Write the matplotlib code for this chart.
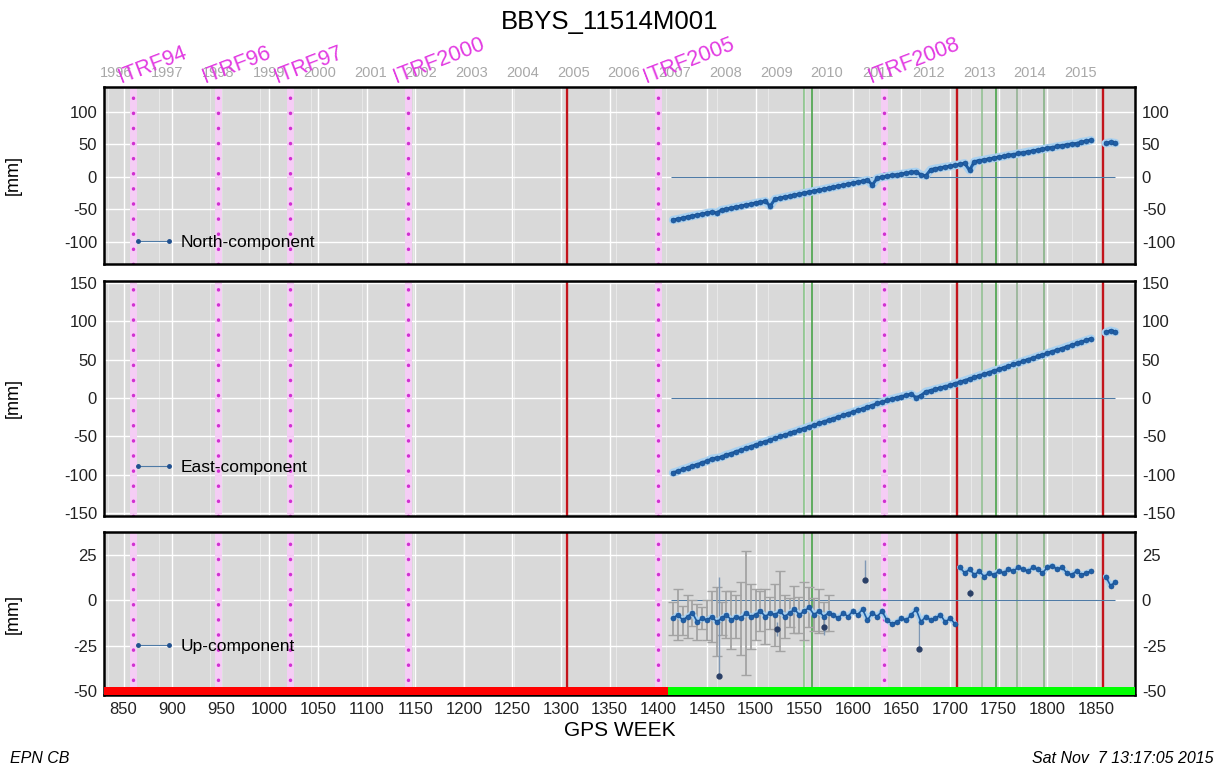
import numpy as np
import matplotlib
matplotlib.use("Agg")
from matplotlib import pyplot as plt
from matplotlib.lines import Line2D

plt.rcParams['font.family'] = ['Liberation Sans', 'DejaVu Sans']
plt.rcParams['axes.unicode_minus'] = False

station = "BBYS_11514M001"

# weekly solutions (sampled every 5 weeks), GPS week
weeks = np.concatenate([np.arange(1415, 1850, 5), [1860, 1865, 1870]])

north = [-66.4, -65.0, -63.5, -61.6, -60.4, -58.7, -57.5, -55.6, -54.3, -55.5,
         -51.0, -49.8, -48.1, -46.4, -45.1, -43.3, -42.0, -40.2, -39.0, -37.5,
         -45.0, -34.2, -32.9, -31.1, -29.8, -28.0, -26.8, -25.0, -23.7, -21.9,
         -20.6, -19.1, -17.3, -16.0, -14.2, -13.0, -11.2, -9.9, -8.1, -6.9,
         -5.0, -12.5, -2.3, -0.5, 0.8, 2.1, 3.0, 4.4, 5.4, 6.8,
         7.7, 3.0, 1.5, 10.8, 12.6, 13.7, 15.2, 16.1, 17.6, 19.2,
         20.8, 10.0, 23.3, 24.9, 26.0, 27.6, 28.7, 30.3, 31.4, 33.0,
         34.1, 35.8, 36.9, 38.5, 39.6, 41.2, 42.3, 43.9, 45.0, 46.6,
         47.7, 49.3, 50.4, 51.1, 53.4, 54.6, 56.2,
         51.5, 53.0, 51.8]

east = [-97.5, -95.6, -93.0, -91.2, -88.6, -86.9, -84.3, -82.5, -79.2, -78.4,
        -77.0, -74.1, -72.5, -69.9, -68.0, -65.6, -63.4, -61.3, -59.0, -57.0,
        -54.6, -52.7, -50.2, -48.4, -46.0, -44.1, -41.7, -39.8, -37.4, -35.6,
        -33.1, -31.3, -28.9, -27.0, -24.6, -22.8, -20.3, -18.5, -16.0, -14.3,
        -11.7, -9.9, -7.0, -5.8, -3.2, -1.6, 0.3, 1.8, 3.5, 5.1,
        0.5, 3.0, 8.2, 9.6, 11.5, 13.0, 14.9, 16.4, 18.9, 20.6,
        22.7, 24.9, 26.8, 29.2, 31.0, 33.1, 35.4, 37.3, 39.6, 41.5,
        43.8, 45.6, 47.9, 50.2, 52.0, 54.3, 56.1, 58.5, 60.4, 62.7,
        64.5, 66.9, 68.8, 71.1, 73.0, 75.3, 77.4,
        85.5, 87.8, 86.2]

up = [-10, -8, -11, -9, -7, -12, -10, -11, -9, -12,
      -10, -8, -11, -9, -10, -7, -9, -8, -6, -9,
      -7, -8, -6, -9, -7, -5, -8, -6, -4, -8,
      -6, -9, -7, -8, -10, -7, -9, -6, -8, -5,
      -11, -7, -9, -6, -11, -13, -12, -10, -11, -8,
      -5, -12, -9, -11, -10, -8, -12, -10, -13, 18,
      15, 17, 14, 16, 13, 15, 14, 16, 15, 17,
      16, 18, 17, 16, 18, 17, 15, 18, 19, 17,
      18, 15, 14, 16, 14, 15, 16,
      13, 8, 10]

up_err = [9, 14, 8, 12, 7, 10, 6, 11, 14, 19,
          9, 13, 16, 12, 20, 34, 18, 14, 11, 15,
          9, 17, 22, 12, 8, 13, 10, 16, 11, 9,
          12, 8, 10, 1.5, 1.5, 1.5, 1.5, 1.5, 1.5, 1.5,
          1.5, 1.5, 1.5, 1.5, 1.5, 1.5, 1.5, 1.5, 1.5, 1.5,
          1.5, 1.5, 1.5, 1.5, 1.5, 1.5, 1.5, 1.5, 1.5, 1.5,
          1.5, 1.5, 1.5, 1.5, 1.5, 1.5, 1.5, 1.5, 1.5, 1.5,
          1.5, 1.5, 1.5, 1.5, 1.5, 1.5, 1.5, 1.5, 1.5, 1.5,
          1.5, 1.5, 1.5, 1.5, 1.5, 1.5, 1.5,
          3, 3, 3]

# isolated Up outliers
up_out_weeks = [1462, 1522, 1570, 1613, 1668, 1720]
up_out_vals = [-42, -16, -15, 11, -27, 4]
up_out_lo = [0, 4, 4, 0, 0, 2]
up_out_hi = [55, 4, 4, 11, 16, 2]

itrf_names = ["ITRF94", "ITRF96", "ITRF97", "ITRF2000", "ITRF2005", "ITRF2008"]
itrf_weeks = [860, 947, 1021, 1143, 1400, 1632]
disc_weeks = [1306, 1707, 1857]
equip_weeks = [1550, 1558, 1733, 1747, 1769, 1797]
equip_colors = ['#7fbf7f', '#3f9f3f', '#8fc08f', '#3f9f3f', '#8fb08f', '#7fb07f']
years = list(range(1996, 2016))
status_edges = [830, 1410, 1890]
status_colors = ['#ff0000', '#00ff00']

XMIN, XMAX = 830, 1890
year_weeks = np.array([(np.datetime64(f'{y}-01-01') - np.datetime64('1980-01-06')).astype(int) / 7.0
                       for y in years])

fig = plt.figure(figsize=(12.17, 7.69), dpi=100)
L, W = 0.0855, 0.847
axN = fig.add_axes([L, 0.6567, W, 0.2302])
axE = fig.add_axes([L, 0.3294, W, 0.3052])
axU = fig.add_axes([L, 0.0962, W, 0.2120])


def style(ax, ylim, yticks):
    ax.set_facecolor('#d9d9d9')
    ax.set_xlim(XMIN, XMAX)
    ax.set_ylim(*ylim)
    ax.set_yticks(yticks)
    ax.set_xticks(range(850, 1900, 50))
    ax.set_xticks(year_weeks, minor=True)
    ax.grid(True, which='major', color='white', lw=1.0)
    ax.grid(True, which='minor', axis='x', color='#e8e8e8', lw=0.8)
    ax.set_axisbelow(True)
    ax.tick_params(which='both', length=0, labelsize=12, labelcolor='#222222',
                   labelright=True, labelbottom=False, pad=5)
    for s in ax.spines.values():
        s.set_linewidth(1.8)
        s.set_color('black')
    ax.set_ylabel('[mm]', fontsize=13)
    ax.yaxis.set_label_coords(-0.0795, 0.5)
    for w in itrf_weeks:
        ax.axvline(w, color='#f5cdf5', lw=5, zorder=1)
        ax.axvline(w, color='#d22fd2', lw=2.5, ls=(0, (0.05, 4.3)),
                   dash_capstyle='round', zorder=1.5)
    for w, c in zip(equip_weeks, equip_colors):
        ax.axvline(w, color=c, lw=1.1, zorder=1.2)
    for w in disc_weeks:
        ax.axvline(w, color='#c3141c', lw=1.7, zorder=1.6)
    ax.hlines(0, 1413, 1870, color='#4f7ba6', lw=0.8, zorder=1.8)


def add_legend(ax, label, yfrac):
    h = Line2D([], [], color='#4f7ba6', lw=0.8, marker='o', ms=2.5,
               mfc='#1f4f8f', mec='#1f4f8f')
    ax.legend([h], [label], loc='center left', bbox_to_anchor=(0.028, yfrac),
              frameon=False, numpoints=2, handlelength=2.4, handletextpad=0.35,
              borderpad=0, borderaxespad=0, fontsize=12.5)


def draw_series(ax, vals, halo, lw, breaks):
    v = np.array(vals, dtype=float)
    edges = [-np.inf] + breaks + [np.inf]
    for a, b in zip(edges[:-1], edges[1:]):
        m = (weeks > a) & (weeks < b)
        ax.plot(weeks[m], v[m], color='#a9d1f0', lw=halo, solid_capstyle='round', zorder=3)
        ax.plot(weeks[m], v[m], color='#1f5fa6', lw=lw, marker='o', ms=3.6,
                mec='#1a4b8a', mew=0.4, zorder=4)


style(axN, (-134, 138), [-100, -50, 0, 50, 100])
draw_series(axN, north, 6, 2.2, [1852])
add_legend(axN, 'North-component', 0.124)

style(axE, (-153.5, 152.6), [-150, -100, -50, 0, 50, 100, 150])
draw_series(axE, east, 6, 2.2, [1852])
add_legend(axE, 'East-component', 0.206)

style(axU, (-52.2, 37.5), [-50, -25, 0, 25])
up_a = np.array(up, dtype=float)
err_a = np.array(up_err, dtype=float)
gray = err_a > 4
axU.errorbar(weeks[gray], up_a[gray], yerr=err_a[gray], fmt='none', ecolor='#a3a3a3',
             elinewidth=1.3, capsize=3.5, capthick=1.0, zorder=3)
axU.errorbar(up_out_weeks, up_out_vals, yerr=[up_out_lo, up_out_hi], fmt='none',
             ecolor='#7f98b5', elinewidth=1.0, zorder=3)
axU.plot(up_out_weeks, up_out_vals, ls='none', marker='o', ms=3.5, color='#2a3f66', zorder=4)
draw_series(axU, up, 4, 1.2, [1707, 1852])
add_legend(axU, 'Up-component', 0.296)
for i, c in enumerate(status_colors):
    axU.fill_between([status_edges[i], status_edges[i + 1]], -52.2, -47.6,
                     color=c, lw=0, zorder=5)
axU.tick_params(axis='x', labelbottom=True, labelsize=12, pad=5)
axU.set_xlabel('GPS WEEK', fontsize=15, labelpad=3)

# year labels on top
sec = axN.secondary_xaxis('top')
sec.set_xticks(year_weeks + 8.7)
sec.set_xticklabels([str(y) for y in years])
sec.tick_params(length=0, labelsize=10.5, labelcolor='#a8a8a8', pad=5)
sec.spines['top'].set_visible(False)

for name, w in zip(itrf_names, itrf_weeks):
    axN.annotate(name, xy=(w, 1), xycoords=('data', 'axes fraction'),
                 xytext=(-9, 3), textcoords='offset points', rotation=21,
                 rotation_mode='anchor', ha='left', va='baseline',
                 color='#e23be2', fontsize=15.5, zorder=10, annotation_clip=False)

fig.text(0.501, 0.971, station, ha='center', va='center', fontsize=18.5)
fig.text(0.008, 0.014, 'EPN CB', ha='left', va='center', fontsize=11.5, style='italic')
fig.text(0.997, 0.014, 'Sat Nov  7 13:17:05 2015', ha='right', va='center',
         fontsize=11.5, style='italic')

fig.savefig('out.png', dpi=100)
